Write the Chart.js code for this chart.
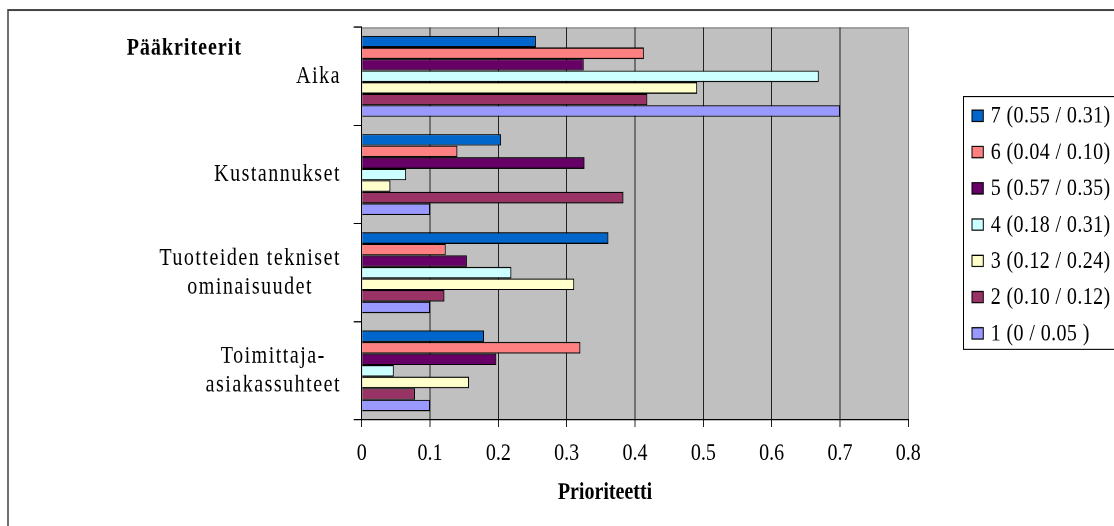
<!DOCTYPE html>
<html>
<head>
<meta charset="utf-8">
<script src="https://cdn.jsdelivr.net/npm/chart.js@4/dist/chart.umd.min.js"></script>
<style>
  html, body { margin: 0; padding: 0; background: #fff; }
  #page { width: 1114px; height: 526px; overflow: hidden; position: relative; }
  #wrap { position: absolute; left: 0; top: 0; width: 1114px; height: 438px; transform: scaleY(1.20091); transform-origin: 0 0; }
  canvas { display: block; }
</style>
</head>
<body>
<div id="page"><div id="wrap"><canvas id="c" width="1114" height="438"></canvas></div></div>
<script>
// Criteria (category axis), each split into the lines it is printed on
const categories = ['Aika', 'Kustannukset', 'Tuotteiden tekniset ominaisuudet', 'Toimittaja-asiakassuhteet'];
const categoryLines = [['Aika'], ['Kustannukset'], ['Tuotteiden tekniset', 'ominaisuudet'], ['Toimittaja-', 'asiakassuhteet']];

// Series labels, top to bottom
const seriesLabels = ['7 (0.55 / 0.31)', '6 (0.04 / 0.10)', '5 (0.57 / 0.35)', '4 (0.18 / 0.31)',
                      '3 (0.12 / 0.24)', '2 (0.10 / 0.12)', '1 (0 / 0.05 )'];
const seriesColors = ['#0066CC', '#FF8080', '#660066', '#CCFFFF', '#FFFFCC', '#993366', '#9999FF'];

// Priority of each criterion for each series (Aika, Kustannukset, Tuotteiden..., Toimittaja...)
const s7 = [0.255, 0.204, 0.361, 0.179];
const s6 = [0.413, 0.140, 0.123, 0.320];
const s5 = [0.325, 0.326, 0.154, 0.197];
const s4 = [0.669, 0.065, 0.219, 0.047];
const s3 = [0.491, 0.042, 0.311, 0.157];
const s2 = [0.418, 0.383, 0.121, 0.078];
const s1 = [0.700, 0.100, 0.100, 0.100];
const seriesValues = [s7, s6, s5, s4, s3, s2, s1];

const xTickLabels = ['0', '0.1', '0.2', '0.3', '0.4', '0.5', '0.6', '0.7', '0.8'];
const yTitle = 'Pääkriteerit';
const xTitle = 'Prioriteetti';

const FONT = "'Liberation Serif', 'Times New Roman', serif";
Chart.defaults.font.family = FONT;
Chart.defaults.font.size = 20;
Chart.defaults.color = '#000';

const decorations = {
  id: 'decorations',
  beforeDraw(chart) {
    const ctx = chart.ctx, a = chart.chartArea;
    ctx.save();
    ctx.fillStyle = '#fff';
    ctx.fillRect(0, 0, chart.width, chart.height);
    // outer frame
    ctx.strokeStyle = '#404040';
    ctx.lineWidth = 1.5;
    ctx.strokeRect(8, 8.3, 1200, 600);
    // plot area
    ctx.fillStyle = '#C0C0C0';
    ctx.fillRect(a.left, a.top, a.right - a.left, a.bottom - a.top);
    ctx.strokeStyle = '#808080';
    ctx.lineWidth = 1;
    ctx.beginPath();
    ctx.moveTo(a.left, a.top + 0.5);
    ctx.lineTo(a.right, a.top + 0.5);
    ctx.stroke();
    ctx.restore();
  },
  afterDraw(chart) {
    const ctx = chart.ctx, y = chart.scales.y;
    ctx.save();
    ctx.fillStyle = '#000';
    ctx.textBaseline = 'middle';

    // category labels: lines centred on each other, block right-aligned to the axis
    ctx.font = '20px ' + FONT;
    ctx.letterSpacing = '1.5px';
    ctx.textAlign = 'center';
    categoryLines.forEach((lines, i) => {
      const cy = y.getPixelForValue(i);
      const widest = Math.max(...lines.map(t => ctx.measureText(t).width));
      const cx = 341 - widest / 2;
      lines.forEach((t, j) => {
        ctx.fillText(t, cx, cy + (j - (lines.length - 1) / 2) * 24);
      });
    });

    // axis titles
    ctx.font = 'bold 20px ' + FONT;
    ctx.letterSpacing = '1px';
    ctx.textAlign = 'left';
    ctx.fillText(yTitle, 126.7, 40.2);
    ctx.letterSpacing = '0px';
    ctx.textAlign = 'center';
    ctx.fillText(xTitle, 605, 410.5);

    // legend
    ctx.strokeStyle = '#000';
    ctx.lineWidth = 1;
    ctx.strokeRect(963.5, 80.5, 300, 210.4);
    ctx.font = '20px ' + FONT;
    ctx.letterSpacing = '0.4px';
    ctx.textAlign = 'left';
    chart.data.datasets.forEach((ds, i) => {
      const cy = 96.4 + i * 30.2;
      ctx.fillStyle = ds.backgroundColor;
      ctx.fillRect(972, cy - 4.7, 11.3, 9.4);
      ctx.strokeRect(972, cy - 4.7, 11.3, 9.4);
      ctx.fillStyle = '#000';
      ctx.fillText(ds.label, 990.7, cy + 0.5);
    });
    ctx.restore();
  }
};

new Chart(document.getElementById('c'), {
  type: 'bar',
  data: {
    labels: categories,
    datasets: seriesLabels.map((label, i) => ({
      label,
      data: seriesValues[i],
      backgroundColor: seriesColors[i],
      borderColor: '#000',
      borderWidth: 1,
      categoryPercentage: 0.825,
      barPercentage: 1.0
    }))
  },
  options: {
    indexAxis: 'y',
    responsive: false,
    animation: false,
    devicePixelRatio: 2,
    layout: { padding: { left: 0, top: 22.7, right: 205.7, bottom: 0 } },
    plugins: { legend: { display: false }, tooltip: { enabled: false } },
    scales: {
      x: {
        min: 0, max: 0.8,
        ticks: {
          stepSize: 0.1,
          padding: 10,
          callback: (v, i) => xTickLabels[i]
        },
        grid: {
          color: ctx => (ctx.index === xTickLabels.length - 1 ? '#808080' : '#222'),
          tickColor: '#222',
          tickLength: 5.8,
          lineWidth: 1
        },
        border: { color: '#000', width: 1 },
        afterFit: s => { s.height = 88.3; }
      },
      y: {
        ticks: { display: false },
        grid: {
          offset: true,
          drawOnChartArea: false,
          tickLength: 8,
          tickColor: '#000'
        },
        border: { color: '#000', width: 1 },
        afterFit: s => { s.width = 361.7; }
      }
    }
  },
  plugins: [decorations]
});
</script>
</body>
</html>
